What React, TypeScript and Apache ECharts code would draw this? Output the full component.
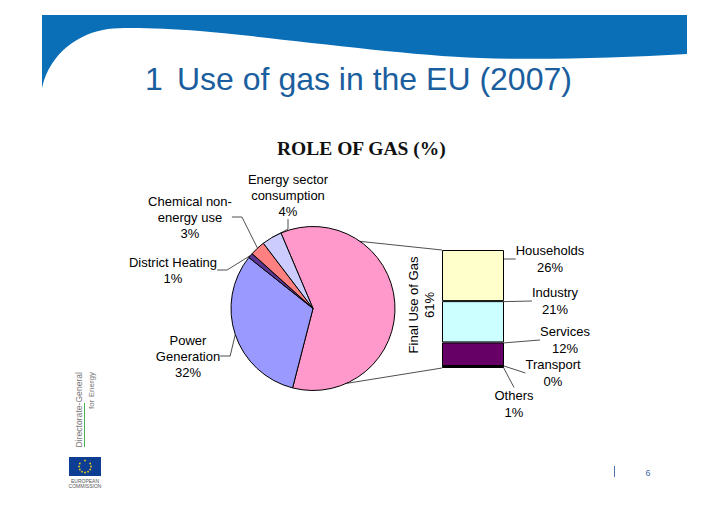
import React, { useEffect, useRef } from 'react';
import * as echarts from 'echarts';

// ---- data ----
const pieNames = ['Final Use of Gas', 'Power\nGeneration', 'District Heating', 'Chemical non-\nenergy use', 'Energy sector\nconsumption'];
const pieValues = [61, 32, 1, 3, 4];
const barNames = ['Others', 'Transport', 'Services', 'Industry', 'Households'];
const barValues = [1, 0, 12, 21, 26];
const barCategory = ['Final Use of Gas'];
const slideTitle = 'Use of gas in the EU (2007)';
const slideNumber = '1';
const chartTitle = 'ROLE OF GAS (%)';
const pageNo = '6';

// ---- styles ----
const pieColors = ['#FF99CC', '#9999FF', '#5B3592', '#FF8080', '#CCCCFF'];
const barColors = ['#1A0026', '#000080', '#660066', '#CCFFFF', '#FFFFCC'];
const pieLabelPos = [[421, 305], [188, 356], [173, 270], [190, 217], [288, 195]];
const barLabelPos = [[514, 404], [553, 373], [565, 340], [555, 301], [550, 259]];

const PIE_CX = 313;
const PIE_CY = 308.5;
const PIE_R = 82;
const START = 113;

const bandPath = 'M42 15 H687 V54 C620 58 540 60 480 58 C400 55 280 38 200 31 C160 28 125 27 108 29 C80 33 50 52 42 88 Z';
echarts.graphic.registerShape('band', echarts.graphic.extendPath(bandPath, {}));

const FONT = 'Liberation Sans, Arial, sans-serif';

export default function App() {
  const ref = useRef<HTMLDivElement>(null);
  useEffect(() => {
    if (!ref.current) return;
    const chart = echarts.init(ref.current, undefined, { renderer: 'svg' });
    const barTotal = barValues.reduce((a, b) => a + b, 0);
    const option: any = {
      animation: false,
      title: {
        text: chartTitle,
        left: 272,
        top: 133,
        textStyle: { fontFamily: 'Liberation Serif, Times New Roman, serif', fontWeight: 'bold', fontSize: 19.5, color: '#111' },
      },
      grid: { left: 442, top: 250, width: 62, height: 118 },
      xAxis: { type: 'category', data: barCategory, show: false },
      yAxis: { type: 'value', min: 0, max: barTotal, show: false },
      series: [
        {
          type: 'pie',
          center: [PIE_CX, PIE_CY],
          radius: PIE_R,
          startAngle: START,
          clockwise: true,
          avoidLabelOverlap: false,
          itemStyle: { borderColor: '#000', borderWidth: 1 },
          label: {
            show: true,
            position: 'outside',
            formatter: '{b}\n{c}%',
            fontFamily: FONT,
            fontSize: 13,
            lineHeight: 16,
            color: '#000',
          },
          labelLine: { show: true, length: 10, length2: 10, lineStyle: { color: '#222', width: 0.8 } },
          labelLayout: (p: any) => {
            const pos = pieLabelPos[p.dataIndex];
            const o: any = { x: pos[0], y: pos[1], align: 'center', verticalAlign: 'middle' };
            if (p.dataIndex === 0) o.rotate = 90;
            return o;
          },
          data: pieNames.map((n, i) => ({
            name: n,
            value: pieValues[i],
            itemStyle: { color: pieColors[i] },
            labelLine: i === 0 ? { show: false } : undefined,
          })),
        },
        ...barNames.map((n, i) => ({
          type: 'bar',
          name: n,
          stack: 'final',
          barWidth: '100%',
          data: [barValues[i]],
          itemStyle: { color: barColors[i], borderColor: '#000', borderWidth: 1 },
          label: {
            show: true,
            position: 'right',
            formatter: '{a}\n{c}%',
            fontFamily: FONT,
            fontSize: 13,
            lineHeight: 16.5,
            color: '#000',
          },
          labelLine: { show: true, lineStyle: { color: '#222', width: 0.8 } },
          labelLayout: { x: barLabelPos[i][0], y: barLabelPos[i][1], align: 'center', verticalAlign: 'middle' },
        })),
      ],
    };
    chart.setOption(option);

    // connectors between pie and stacked bar, computed from the scales
    const topPt = chart.convertToPixel({ gridIndex: 0 }, [0, barTotal]) as number[];
    const botPt = chart.convertToPixel({ gridIndex: 0 }, [0, 0]) as number[];
    const barLeft = topPt[0] - 31;
    const a1 = (START * Math.PI) / 180;
    const a2 = (-66 * Math.PI) / 180;
    const p1 = [PIE_CX + PIE_R * Math.cos(a1), PIE_CY - PIE_R * Math.sin(a1)];
    const p2 = [PIE_CX + PIE_R * Math.cos(a2), PIE_CY - PIE_R * Math.sin(a2)];

    const stars: any[] = [];
    for (let k = 0; k < 12; k++) {
      const t = (k / 12) * Math.PI * 2;
      stars.push({ type: 'circle', shape: { cx: 85 + 6 * Math.cos(t), cy: 466.5 + 6 * Math.sin(t), r: 0.8 }, style: { fill: '#FFDD00' } });
    }

    chart.setOption({
      graphic: [
        { type: 'band', x: 0, y: 0, z: -10, style: { fill: '#0B6FB8' } },
        { type: 'text', x: 145, y: 79, style: { text: slideNumber, font: `32px ${FONT}`, fill: '#1B5E9E', align: 'left', verticalAlign: 'middle' } },
        { type: 'text', x: 177, y: 79, style: { text: slideTitle, font: `32px ${FONT}`, fill: '#1B5E9E', align: 'left', verticalAlign: 'middle' } },
        { type: 'line', shape: { x1: p1[0], y1: p1[1], x2: barLeft, y2: topPt[1] }, style: { stroke: '#222', lineWidth: 0.8 } },
        { type: 'line', shape: { x1: p2[0], y1: p2[1], x2: barLeft, y2: botPt[1] }, style: { stroke: '#222', lineWidth: 0.8 } },
        { type: 'text', x: 78.5, y: 372, rotation: Math.PI / 2, style: { text: 'Directorate-General', font: `8.6px ${FONT}`, fill: '#777', align: 'right', verticalAlign: 'middle' } },
        { type: 'text', x: 91, y: 372, rotation: Math.PI / 2, style: { text: 'for Energy', font: `8px ${FONT}`, fill: '#777', align: 'right', verticalAlign: 'middle' } },
        { type: 'line', shape: { x1: 84.5, y1: 403, x2: 84.5, y2: 447 }, style: { stroke: '#4CAF50', lineWidth: 1 } },
        { type: 'rect', shape: { x: 69, y: 457, width: 32, height: 19 }, style: { fill: '#0E3D94' } },
        ...stars,
        { type: 'text', x: 85, y: 481, style: { text: 'EUROPEAN', font: `5px ${FONT}`, fill: '#555', align: 'center', verticalAlign: 'middle' } },
        { type: 'text', x: 85, y: 486, style: { text: 'COMMISSION', font: `5px ${FONT}`, fill: '#555', align: 'center', verticalAlign: 'middle' } },
        { type: 'line', shape: { x1: 614.5, y1: 466, x2: 614.5, y2: 477 }, style: { stroke: '#4A74AA', lineWidth: 1 } },
        { type: 'text', x: 648, y: 473, style: { text: pageNo, font: `9px ${FONT}`, fill: '#3A6AA8', align: 'center', verticalAlign: 'middle' } },
      ],
    });

    return () => chart.dispose();
  }, []);
  return <div ref={ref} style={{ position: 'absolute', left: 0, top: 0, width: 728, height: 514, background: '#fff' }} />;
}
